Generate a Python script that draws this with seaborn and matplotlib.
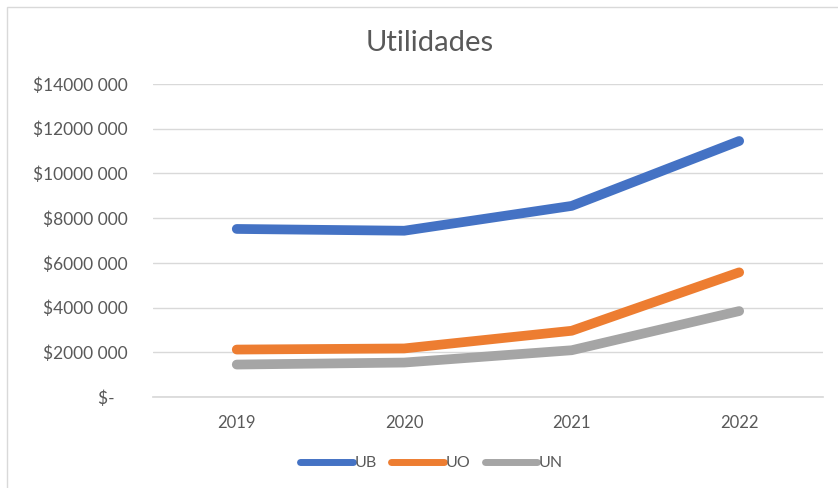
import matplotlib
matplotlib.use("Agg")
import matplotlib.pyplot as plt
import matplotlib.ticker as mticker
from matplotlib.patches import Rectangle
import seaborn as sns
import pandas as pd

years = ["2019", "2020", "2021", "2022"]
ub = [7520000, 7440000, 8550000, 11450000]
uo = [2130000, 2180000, 2970000, 5580000]
un = [1460000, 1550000, 2100000, 3850000]
series_names = ["UB", "UO", "UN"]
colors = ["#4472C4", "#ED7D31", "#A5A5A5"]

df = pd.DataFrame({"year": years * 3,
                   "value": ub + uo + un,
                   "serie": [s for s in series_names for _ in years]})

sns.set_theme(style="white")
plt.rcParams["font.family"] = ["Lato", "DejaVu Sans"]

fig = plt.figure(figsize=(8.38, 4.88), dpi=100)
ax = fig.add_axes([0.1826, 0.186, 0.7994, 0.642])

sns.lineplot(data=df, x="year", y="value", hue="serie", palette=colors,
             linewidth=7, sort=False, ax=ax, legend=True)
for line in ax.get_lines():
    line.set_solid_capstyle("round")
    line.set_solid_joinstyle("round")

ax.set_xlim(-0.5, 3.5)
ax.set_ylim(0, 14000000)
ax.yaxis.set_major_locator(mticker.MultipleLocator(2000000))


def money(v, pos):
    if v == 0:
        return "$-   "
    s = f"{int(v):d}"
    return "$" + s[:-3] + " " + s[-3:]


ax.yaxis.set_major_formatter(mticker.FuncFormatter(money))
ax.grid(axis="y", color="#d9d9d9", linewidth=1)
ax.set_axisbelow(True)
for side in ["top", "right", "left"]:
    ax.spines[side].set_visible(False)
ax.spines["bottom"].set_color("#d9d9d9")
ax.tick_params(axis="y", length=0, pad=18, labelsize=12.5, labelcolor="#595959")
ax.tick_params(axis="x", length=0, pad=13, labelsize=12, labelcolor="#595959")
ax.set_xlabel("")
ax.set_ylabel("")

handles, labels = ax.get_legend_handles_labels()
ax.get_legend().remove()
leg = fig.legend(handles, labels, loc="center", bbox_to_anchor=(0.515, 0.051),
                 ncol=3, frameon=False, handlelength=3.3, handletextpad=0.1,
                 columnspacing=0.9, fontsize=11.5)
for t in leg.get_texts():
    t.set_color("#595959")
for h in leg.legend_handles:
    h.set_linewidth(5)
    h.set_solid_capstyle("round")

fig.text(0.513, 0.912, "Utilidades", ha="center", va="center",
         fontsize=21, color="#595959")

fig.patches.append(Rectangle((0.008, -0.1), 1.2, 1.085, transform=fig.transFigure,
                             fill=False, edgecolor="#d9d9d9", linewidth=1))

fig.savefig("out.png", dpi=100)
